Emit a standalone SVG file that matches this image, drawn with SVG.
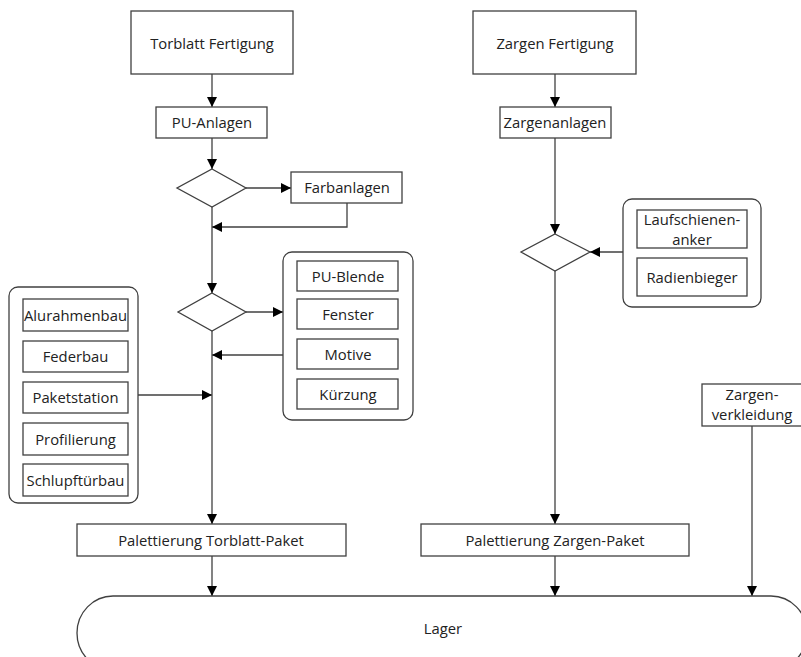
<svg xmlns="http://www.w3.org/2000/svg" width="801" height="657" viewBox="0 0 801 657">
<defs>
<style>
.b{fill:#fff;stroke:#404040;stroke-width:1.3}
.g{fill:#fff;stroke:#404040;stroke-width:1.3}
.t{font-family:"Open Sans","Liberation Sans",sans-serif;font-size:14.8px;fill:#222;text-anchor:middle;dominant-baseline:central}
.c{fill:none;stroke:#404040;stroke-width:1.3}
</style>
<marker id="ah" viewBox="0 0 10 10" refX="10" refY="5" markerWidth="10" markerHeight="10" markerUnits="userSpaceOnUse" orient="auto">
<path d="M0,0 L10,5 L0,10 Z" fill="#000"/>
</marker>
</defs>
<rect width="801" height="657" fill="#fff"/>
<g id="connectors">
<path class="c" d="M212,74 V107" marker-end="url(#ah)"/>
<path class="c" d="M212,138 V169" marker-end="url(#ah)"/>
<path class="c" d="M246,188 H291" marker-end="url(#ah)"/>
<path class="c" d="M347,203 V227 H212" marker-end="url(#ah)"/>
<path class="c" d="M212,207 V293" marker-end="url(#ah)"/>
<path class="c" d="M246,312 H283" marker-end="url(#ah)"/>
<path class="c" d="M283,355 H212" marker-end="url(#ah)"/>
<path class="c" d="M138,395 H212" marker-end="url(#ah)"/>
<path class="c" d="M212,331 V524" marker-end="url(#ah)"/>
<path class="c" d="M212,556 V596" marker-end="url(#ah)"/>
<path class="c" d="M555,74 V107" marker-end="url(#ah)"/>
<path class="c" d="M555,138 V234" marker-end="url(#ah)"/>
<path class="c" d="M623,252 H590" marker-end="url(#ah)"/>
<path class="c" d="M555,271 V524" marker-end="url(#ah)"/>
<path class="c" d="M555,556 V596" marker-end="url(#ah)"/>
<path class="c" d="M752,426 V596" marker-end="url(#ah)"/>
</g>
<g id="torblatt-fertigung"><rect class="b" x="131" y="11" width="162" height="63"/><text class="t" x="212" y="43">Torblatt Fertigung</text></g>
<g id="pu-anlagen"><rect class="b" x="156" y="107" width="111" height="31"/><text class="t" x="212" y="122">PU-Anlagen</text></g>
<g id="diamond1"><path class="b" d="M212,169 L246,188 L212,207 L177,188 Z"/></g>
<g id="farbanlagen"><rect class="b" x="291" y="172" width="111" height="31"/><text class="t" x="347" y="187">Farbanlagen</text></g>
<g id="diamond2"><path class="b" d="M212,293 L246,312 L212,331 L178,312 Z"/></g>
<g id="pu-group">
<rect class="g" x="283" y="252" width="130" height="168" rx="9"/>
<rect class="b" x="297" y="261" width="101" height="30"/><text class="t" x="348" y="276">PU-Blende</text>
<rect class="b" x="297" y="299" width="101" height="30"/><text class="t" x="348" y="314">Fenster</text>
<rect class="b" x="297" y="339" width="101" height="30"/><text class="t" x="348" y="354">Motive</text>
<rect class="b" x="297" y="379" width="101" height="30"/><text class="t" x="348" y="394">Kürzung</text>
</g>
<g id="left-group">
<rect class="g" x="9" y="287" width="129" height="216" rx="9"/>
<rect class="b" x="23" y="299" width="105" height="32"/><text class="t" x="75.5" y="315">Alurahmenbau</text>
<rect class="b" x="23" y="341" width="105" height="31"/><text class="t" x="75.5" y="356">Federbau</text>
<rect class="b" x="23" y="382" width="105" height="31"/><text class="t" x="75.5" y="397">Paketstation</text>
<rect class="b" x="23" y="423" width="105" height="32"/><text class="t" x="75.5" y="439">Profilierung</text>
<rect class="b" x="23" y="464" width="105" height="32"/><text class="t" x="75.5" y="480">Schlupftürbau</text>
</g>
<g id="palettierung-torblatt"><rect class="b" x="77" y="524" width="269" height="32"/><text class="t" x="211" y="540">Palettierung Torblatt-Paket</text></g>
<g id="zargen-fertigung"><rect class="b" x="473" y="11" width="163" height="63"/><text class="t" x="555" y="43">Zargen Fertigung</text></g>
<g id="zargenanlagen"><rect class="b" x="500" y="107" width="111" height="31"/><text class="t" x="555" y="122">Zargenanlagen</text></g>
<g id="diamond3"><path class="b" d="M555,234 L590,252 L555,271 L521,252 Z"/></g>
<g id="zargen-group">
<rect class="g" x="623" y="199" width="138" height="108" rx="9"/>
<rect class="b" x="637" y="210" width="110" height="38"/><text class="t" x="692" y="219">Laufschienen-</text><text class="t" x="692" y="239">anker</text>
<rect class="b" x="637" y="258" width="110" height="38"/><text class="t" x="692" y="277">Radienbieger</text>
</g>
<g id="zargenverkleidung"><rect class="b" x="702" y="384" width="102" height="42"/><text class="t" x="752" y="394">Zargen-</text><text class="t" x="752" y="414">verkleidung</text></g>
<g id="palettierung-zargen"><rect class="b" x="421" y="524" width="268" height="32"/><text class="t" x="555" y="540">Palettierung Zargen-Paket</text></g>
<g id="lager"><rect class="b" x="77" y="596" width="730" height="74" rx="36" ry="37"/><text class="t" x="443" y="628">Lager</text></g>
</svg>
